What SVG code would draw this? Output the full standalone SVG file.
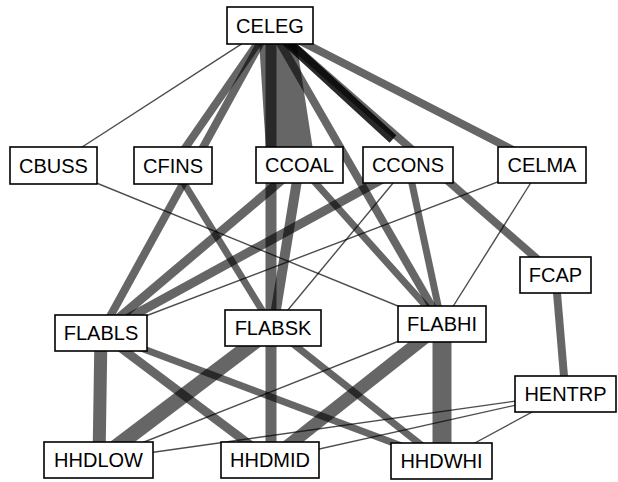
<svg xmlns="http://www.w3.org/2000/svg" width="618" height="482" viewBox="0 0 618 482">
  <style>
    .e { stroke: #000; stroke-opacity: 0.6; fill: none; }
    .t { stroke: #000; stroke-opacity: 0.7; stroke-width: 1.4; fill: none; }
    .dk { stroke: #000; stroke-opacity: 0.84; fill: none; }
    .poly { fill: #000; fill-opacity: 0.6; stroke: none; }
    .box { fill: #fff; stroke: #000; stroke-width: 1.6; }
    .lbl { font-family: "Liberation Sans", Arial, sans-serif; font-size: 20px; fill: #000; text-anchor: middle; }
  </style>
  <rect width="618" height="482" fill="#fff"/>

  <g id="connectors">
    <!-- thin ties -->
    <line class="t" x1="270" y1="25.5" x2="53.5" y2="165.5"/>
    <line class="t" x1="53.5" y1="165.5" x2="442" y2="324"/>
    <line class="t" x1="542" y1="165" x2="101" y2="333"/>
    <line class="t" x1="408" y1="165" x2="273" y2="328"/>
    <line class="t" x1="542" y1="165" x2="442" y2="324"/>
    <line class="t" x1="442" y1="324" x2="98.5" y2="460"/>
    <line class="t" x1="565.5" y1="394" x2="98.5" y2="460"/>
    <line class="t" x1="565.5" y1="394" x2="270" y2="460"/>
    <line class="t" x1="565.5" y1="394" x2="441.5" y2="461"/>

    <!-- CELEG ties -->
    <line class="e" stroke-width="8" x1="270" y1="25.5" x2="173" y2="165.5"/>
    <line class="e" stroke-width="8" x1="270" y1="25.5" x2="101" y2="333"/>
    <polygon class="poly" points="259,40 296,40 313,150 266,150"/>
    <line class="e" stroke-width="11" x1="271" y1="25.5" x2="271" y2="460"/>
    <line class="e" stroke-width="8" x1="270" y1="25.5" x2="442" y2="324"/>
    <line class="dk" stroke-width="10" x1="272" y1="28" x2="393" y2="139"/>
    <line class="e" stroke-width="8" x1="270" y1="25.5" x2="555.5" y2="275"/>
    <line class="e" stroke-width="8" x1="270" y1="25.5" x2="542" y2="165"/>

    <!-- middle tier -->
    <line class="e" stroke-width="7" x1="173" y1="165.5" x2="273" y2="328"/>
    <line class="e" stroke-width="9" x1="299.5" y1="165" x2="101" y2="333"/>
    <line class="e" stroke-width="10" x1="299.5" y1="165" x2="273" y2="328"/>
    <line class="e" stroke-width="7" x1="299.5" y1="165" x2="442" y2="324"/>
    <line class="e" stroke-width="9" x1="408" y1="165" x2="101" y2="333"/>
    <line class="e" stroke-width="7" x1="408" y1="165" x2="442" y2="324"/>
    <line class="e" stroke-width="8" x1="555.5" y1="275" x2="565.5" y2="394"/>

    <!-- lower tier -->
    <line class="e" stroke-width="13" x1="101" y1="333" x2="99" y2="460"/>
    <line class="e" stroke-width="9" x1="101" y1="333" x2="270" y2="460"/>
    <line class="e" stroke-width="7" x1="101" y1="333" x2="441.5" y2="461"/>
    <line class="e" stroke-width="15" x1="273" y1="328" x2="98.5" y2="460"/>
    <line class="e" stroke-width="7" x1="273" y1="328" x2="441.5" y2="461"/>
    <line class="e" stroke-width="13" x1="442" y1="324" x2="270" y2="460"/>
    <line class="e" stroke-width="19" x1="442" y1="324" x2="442" y2="461"/>
  </g>

  <g id="CELEG"><rect class="box" x="227" y="7" width="86" height="37"/><text class="lbl" x="270" y="32.5">CELEG</text></g>
  <g id="CBUSS"><rect class="box" x="10" y="147" width="87" height="37"/><text class="lbl" x="53.5" y="172.5">CBUSS</text></g>
  <g id="CFINS"><rect class="box" x="134" y="147" width="78" height="37"/><text class="lbl" x="173" y="172.5">CFINS</text></g>
  <g id="CCOAL"><rect class="box" x="256" y="147" width="87" height="36"/><text class="lbl" x="299.5" y="172">CCOAL</text></g>
  <g id="CCONS"><rect class="box" x="363" y="147" width="90" height="36"/><text class="lbl" x="408" y="172">CCONS</text></g>
  <g id="CELMA"><rect class="box" x="498" y="147" width="88" height="36"/><text class="lbl" x="542" y="172">CELMA</text></g>
  <g id="FCAP"><rect class="box" x="520" y="257" width="71" height="36"/><text class="lbl" x="555.5" y="282">FCAP</text></g>
  <g id="FLABLS"><rect class="box" x="55" y="315" width="92" height="36"/><text class="lbl" x="101" y="340">FLABLS</text></g>
  <g id="FLABSK"><rect class="box" x="225" y="310" width="96" height="36"/><text class="lbl" x="273" y="335">FLABSK</text></g>
  <g id="FLABHI"><rect class="box" x="398" y="306" width="88" height="36"/><text class="lbl" x="442" y="331">FLABHI</text></g>
  <g id="HENTRP"><rect class="box" x="515" y="376" width="101" height="36"/><text class="lbl" x="565.5" y="401">HENTRP</text></g>
  <g id="HHDLOW"><rect class="box" x="44" y="442" width="109" height="36"/><text class="lbl" x="98.5" y="467">HHDLOW</text></g>
  <g id="HHDMID"><rect class="box" x="221" y="442" width="98" height="36"/><text class="lbl" x="270" y="467">HHDMID</text></g>
  <g id="HHDWHI"><rect class="box" x="391" y="443" width="101" height="36"/><text class="lbl" x="441.5" y="468">HHDWHI</text></g>
</svg>
